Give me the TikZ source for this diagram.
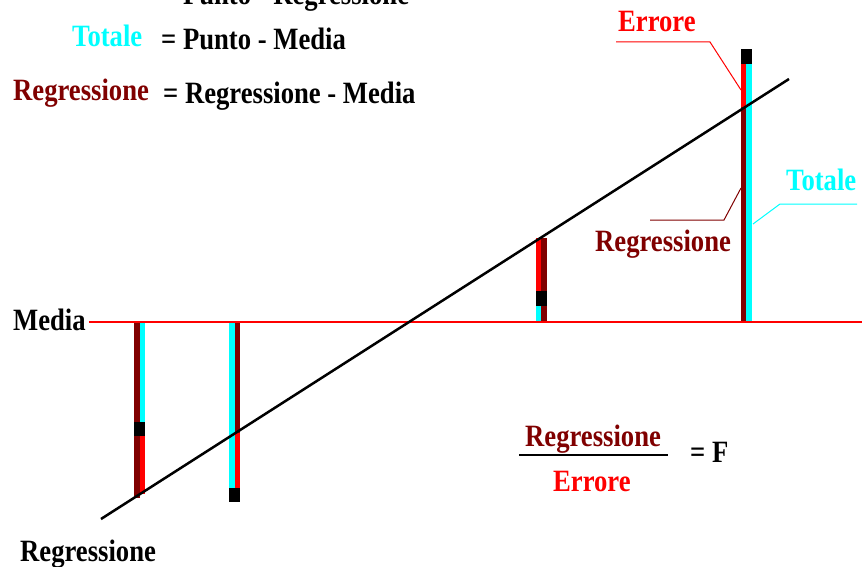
\documentclass[tikz,border=0pt]{standalone}
\usepackage{fontspec}
\setmainfont{Liberation Serif}
\definecolor{cyn}{HTML}{00FFFF}
\definecolor{dred}{HTML}{800000}
\definecolor{rd}{HTML}{FF0000}
\begin{document}
\begin{tikzpicture}[x=1pt,y=-1pt,
  lbl/.style={font=\fontsize{31}{31}\selectfont\bfseries, xscale=0.86, inner sep=0, anchor=base west},
  leader/.style={line width=1pt}]
\useasboundingbox (0,0) rectangle (862,567);
\clip (0,0) rectangle (862,567);
\fill[white] (0,0) rectangle (862,567);
% legend
\node[lbl] (eq0) at (161,5) {= Punto - Regressione};
\node[lbl,text=cyn] (tot) at (72,47) {Totale};
\node[lbl] (eq1) at (161,50) {= Punto - Media};
\node[lbl,text=dred] (reg) at (13,101) {Regressione};
\node[lbl] (eq2) at (163,104) {= Regressione - Media};
% bar 1
\fill[dred] (134,322) rectangle (140,498);
\fill[cyn] (140,322) rectangle (145,422);
\fill[rd] (140,436) rectangle (145,494);
\fill[black] (134,422) rectangle (145,436);
% bar 2
\fill[cyn] (229,322) rectangle (235,488);
\fill[dred] (235,322) rectangle (240,433);
\fill[rd] (235,433) rectangle (240,488);
\fill[black] (229,488) rectangle (240,502);
% bar 3
\fill[rd] (536,238) rectangle (541,291);
\fill[cyn] (536,306) rectangle (541,322);
\fill[dred] (541,238) rectangle (547,322);
\fill[black] (536,291) rectangle (547,306);
% bar 4
\fill[rd] (741,64) rectangle (746,107);
\fill[dred] (741,107) rectangle (746,322);
\fill[cyn] (746,64) rectangle (752,322);
\fill[black] (741,49) rectangle (752,64);
% media line
\node[lbl] (media) at (13,330) {Media};
\coordinate (mR) at (862,322);
\draw[rd, line width=1.5pt] (media.east |- mR) ++(3,0) -- (mR);
% regression line
\coordinate (rA) at (101,519);
\coordinate (rB) at (789,79);
\draw[black, line width=2.5pt] (rA) -- (rB);
\node[lbl] (regB) at (20,561) {Regressione};
% leaders
\node[lbl,text=rd] (err) at (618,32) {Errore};
\coordinate (e1) at (616,42);
\coordinate (e2) at (710,42);
\coordinate (e3) at (741,90);
\draw[rd,leader] (e1) -- (e2) -- (e3);
\node[lbl,text=cyn] (totR) at (786,190) {Totale};
\coordinate (t1) at (857,204);
\coordinate (t2) at (780,204);
\coordinate (t3) at (753,224);
\draw[cyn,leader] (t1) -- (t2) -- (t3);
\node[lbl,text=dred] (regR) at (595,251) {Regressione};
\coordinate (g1) at (650,220);
\coordinate (g2) at (724,220);
\coordinate (g3) at (741,188);
\draw[dred,leader] (g1) -- (g2) -- (g3);
% fraction
\node[lbl,text=dred] (num) at (525,446) {Regressione};
\node[lbl,text=rd] (den) at (553,491) {Errore};
\coordinate (fL) at (519,455);
\coordinate (fR) at (668,455);
\draw[black,line width=1.5pt] (fL) -- (fR);
\node[lbl] (F) at (690,462) {= F};
\end{tikzpicture}
\end{document}
